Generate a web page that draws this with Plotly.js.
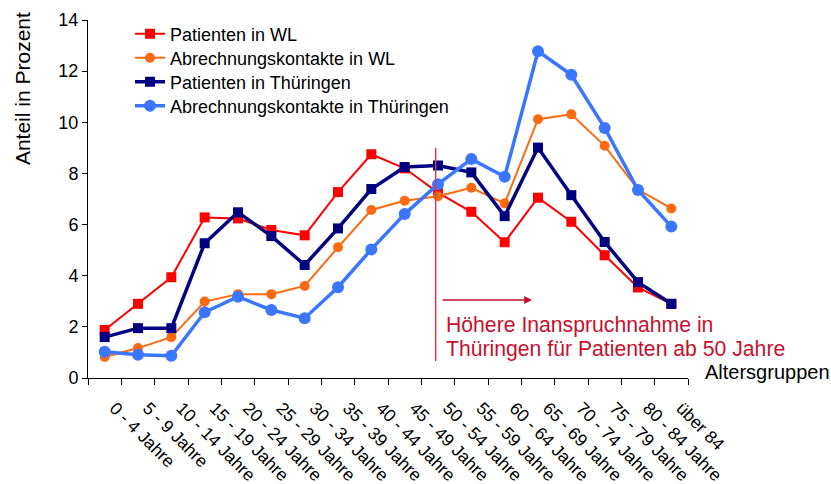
<!DOCTYPE html>
<html>
<head>
<meta charset="utf-8">
<script src="https://cdn.plot.ly/plotly-3.0.1.min.js"></script>
<style>html,body{margin:0;padding:0;background:#fff;}#chart{width:831px;height:484px;}</style>
</head>
<body>
<div id="chart"></div>
<script>
const categories = ["0 - 4 Jahre","5 - 9 Jahre","10 - 14 Jahre","15 - 19 Jahre","20 - 24 Jahre","25 - 29 Jahre","30 - 34 Jahre","35 - 39 Jahre","40 - 44 Jahre","45 - 49 Jahre","50 - 54 Jahre","55 - 59 Jahre","60 - 64 Jahre","65 - 69 Jahre","70 - 74 Jahre","75 - 79 Jahre","80 - 84 Jahre","über 84"];
const patientenWL = [1.88, 2.90, 3.94, 6.28, 6.24, 5.79, 5.58, 7.27, 8.75, 8.20, 7.25, 6.50, 5.31, 7.05, 6.11, 4.80, 3.54, 2.90];
const kontakteWL = [0.82, 1.17, 1.60, 2.99, 3.28, 3.28, 3.60, 5.11, 6.57, 6.93, 7.11, 7.44, 6.83, 10.12, 10.31, 9.08, 7.37, 6.63];
const patientenTH = [1.60, 1.95, 1.95, 5.27, 6.48, 5.55, 4.42, 5.85, 7.39, 8.25, 8.31, 8.04, 6.33, 9.01, 7.15, 5.32, 3.75, 2.90];
const kontakteTH = [1.03, 0.91, 0.87, 2.57, 3.18, 2.66, 2.34, 3.55, 5.03, 6.41, 7.58, 8.56, 7.87, 12.78, 11.86, 9.78, 7.35, 5.92];
const seriesNames = ["Patienten in WL","Abrechnungskontakte in WL","Patienten in Thüringen","Abrechnungskontakte in Thüringen"];
const yTicks = [0,2,4,6,8,10,12,14];

const FONT = "Liberation Sans, Arial, Helvetica, sans-serif";
const RED_ANN = "#c8102e";

const traces = [
  {x: categories, y: patientenWL, name: seriesNames[0], type: "scatter", mode: "lines+markers", legend: "legend",
   line: {color: "#ff0000", width: 2}, marker: {symbol: "square", size: 10, color: "#ff0000"}},
  {x: categories, y: kontakteWL, name: seriesNames[1], type: "scatter", mode: "lines+markers", legend: "legend2",
   line: {color: "#ff6a10", width: 2}, marker: {symbol: "circle", size: 10, color: "#ff6a10"}},
  {x: categories, y: patientenTH, name: seriesNames[2], type: "scatter", mode: "lines+markers", legend: "legend3",
   line: {color: "#000080", width: 3.5}, marker: {symbol: "square", size: 10, color: "#000080"}},
  {x: categories, y: kontakteTH, name: seriesNames[3], type: "scatter", mode: "lines+markers", legend: "legend4",
   line: {color: "#3a76ff", width: 3.5}, marker: {symbol: "circle", size: 12, color: "#3a76ff"}}
];

function leg(y) {
  return {x: 0.07, y: y, xanchor: "left", yanchor: "top", bgcolor: "rgba(0,0,0,0)",
          font: {size: 18, family: FONT, color: "#000"}, itemwidth: 30};
}

const layout = {
  width: 831, height: 484,
  margin: {l: 88, r: 143, t: 20, b: 106},
  paper_bgcolor: "#fff", plot_bgcolor: "#fff",
  font: {family: FONT, color: "#000", size: 17},
  showlegend: true,
  legend: leg(1.0125),
  legend2: leg(0.9454),
  legend3: leg(0.8784),
  legend4: leg(0.8113),
  xaxis: {type: "category", showline: true, linecolor: "#000", linewidth: 1,
          ticks: "outside", ticklen: 6, tickcolor: "#000", tickson: "boundaries",
          tickangle: 45, tickfont: {size: 17.5, family: FONT}, showgrid: false, zeroline: false,
          ticklabelstandoff: 12, ticklabelshift: 10,
          range: [-0.5, 17.5], fixedrange: true},
  yaxis: {range: [0, 14], tickvals: yTicks, showline: true, linecolor: "#000", linewidth: 1,
          ticks: "outside", ticklen: 5, tickcolor: "#000", tickfont: {size: 18, family: FONT},
          showgrid: false, zeroline: false},
  shapes: [
    {type: "line", xref: "x", yref: "y", x0: 9.93, x1: 9.93, y0: 0.66, y1: 9.0,
     line: {color: "#d04050", width: 1.5}}
  ],
  annotations: [
    {text: "<b>Altersgruppenverteilung</b>", xref: "paper", yref: "paper", x: 0.48, y: 1, xanchor: "center",
     yanchor: "bottom", yshift: 22, showarrow: false, font: {size: 22, family: FONT, color: "#000"}},
    {text: "Anteil in Prozent", xref: "paper", yref: "paper", x: -0.11, y: 0.807, xanchor: "center", yanchor: "middle",
     textangle: -90, showarrow: false, font: {size: 21, family: FONT, color: "#000"}},
    {text: "Altersgruppen", xref: "paper", yref: "paper", x: 1.025, y: 0.017, xanchor: "left", yanchor: "middle",
     showarrow: false, font: {size: 20, family: FONT, color: "#000"}},
    {text: "", xref: "x", yref: "y", axref: "x", ayref: "y", x: 12.82, y: 3.05, ax: 10.09, ay: 3.05,
     showarrow: true, arrowhead: 2, arrowsize: 1.2, arrowwidth: 1.3, arrowcolor: RED_ANN},
    {text: "Höhere Inanspruchnahme in", xref: "x", yref: "y", x: 10.17, y: 2.09, xanchor: "left", yanchor: "middle",
     showarrow: false, font: {size: 21.2, family: FONT, color: RED_ANN}},
    {text: "Thüringen für Patienten ab 50 Jahre", xref: "x", yref: "y", x: 10.17, y: 1.15, xanchor: "left", yanchor: "middle",
     showarrow: false, font: {size: 21.2, family: FONT, color: RED_ANN}}
  ]
};

Plotly.newPlot("chart", traces, layout, {displayModeBar: false, staticPlot: true});
</script>
</body>
</html>
